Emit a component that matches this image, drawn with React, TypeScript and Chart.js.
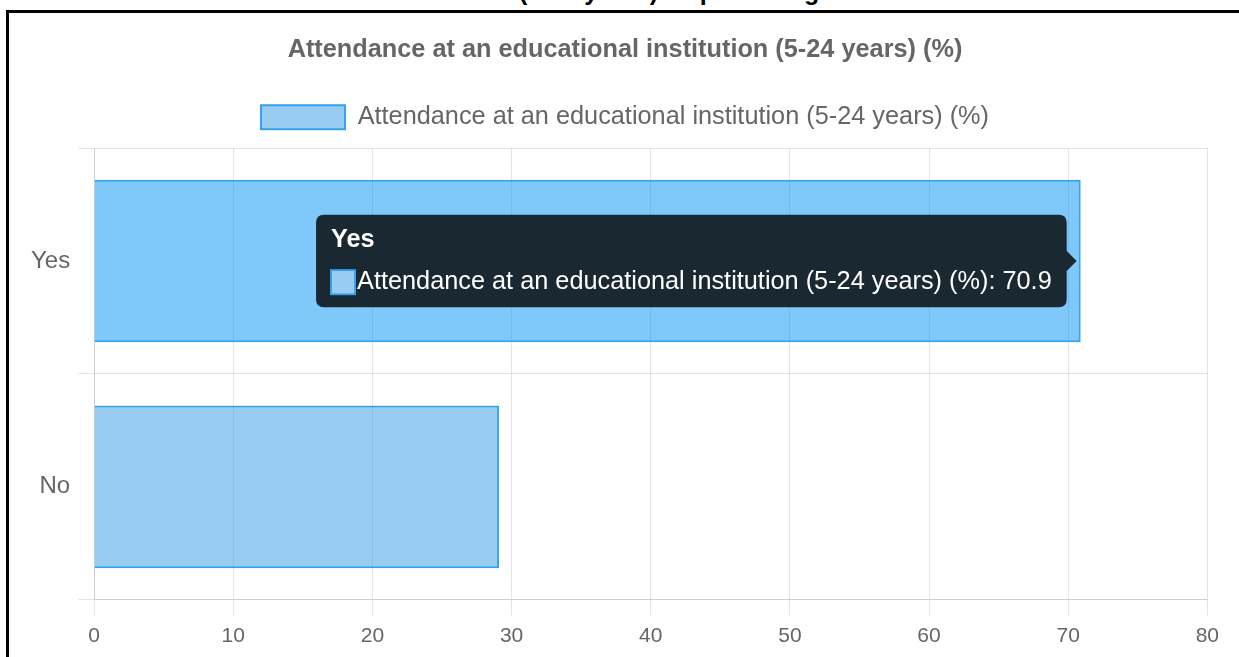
import React, { useEffect, useRef } from "react";
import { Chart, registerables } from "chart.js";

Chart.register(...registerables);

const categories = ["Yes", "No"];
const seriesLabel = "Attendance at an educational institution (5-24 years) (%)";
const seriesValues = [70.9, 29.1];
const xTicks = [0, 10, 20, 30, 40, 50, 60, 70, 80];
const headingLeft = "Attendance at an educational institution ";
const headingRight = "(5-24 years) as percentage";

const legendGap = {
  id: "legendGap",
  beforeInit(chart: any) {
    const legend = chart.legend;
    if (!legend) return;
    const fit = legend.fit;
    legend.fit = function () {
      fit.bind(legend)();
      legend.height += 8.2;
    };
  },
};

export default function App() {
  const ref = useRef<HTMLCanvasElement | null>(null);

  useEffect(() => {
    if (!ref.current) return;
    const chart = new Chart(ref.current, {
      type: "bar",
      data: {
        labels: categories,
        datasets: [
          {
            label: seriesLabel,
            data: seriesValues,
            backgroundColor: "rgba(49,153,227,0.5)",
            hoverBackgroundColor: "rgba(0,147,245,0.5)",
            borderColor: "#36a2eb",
            hoverBorderColor: "#36a2eb",
            borderWidth: 2,
          },
        ],
      },
      plugins: [legendGap],
      options: {
        indexAxis: "y",
        responsive: false,
        animation: false,
        devicePixelRatio: 1,
        layout: { padding: { top: 10, left: 14, right: 0, bottom: 0 } },
        scales: {
          x: {
            min: xTicks[0],
            max: xTicks[xTicks.length - 1],
            ticks: { stepSize: 10, font: { size: 21 }, padding: 8, color: "#666" },
            grid: { tickLength: 16, color: "rgba(0,0,0,0.1)" },
          },
          y: {
            ticks: { font: { size: 24 }, padding: 8, color: "#666" },
            grid: { tickLength: 16, color: "rgba(0,0,0,0.1)" },
          },
        },
        plugins: {
          title: {
            display: true,
            text: seriesLabel,
            color: "#666",
            font: { size: 25.3, weight: "bold" },
            padding: { top: 12, bottom: 29.2 },
          },
          legend: {
            labels: {
              color: "#666",
              font: { size: 25.3 },
              boxWidth: 84,
              boxHeight: 24,
            },
          },
          tooltip: {
            enabled: true,
            xAlign: "right",
            yAlign: "center",
            backgroundColor: "rgba(0,0,0,0.8)",
            titleFont: { size: 25.3, weight: "bold" },
            bodyFont: { size: 25.3 },
            padding: { top: 10, bottom: 10, left: 15, right: 15 },
            titleMarginBottom: 12,
            cornerRadius: 8,
            caretSize: 10,
            caretPadding: 4,
            boxWidth: 24,
            boxHeight: 24,
          },
        },
      },
    });
    const active = [{ datasetIndex: 0, index: 0 }];
    chart.setActiveElements(active);
    chart.tooltip?.setActiveElements(active, { x: 0, y: 0 });
    chart.update();
    return () => chart.destroy();
  }, []);

  return (
    <div>
      <div
        style={{
          position: "absolute",
          left: 0,
          top: 0,
          width: 1239,
          height: 6,
          overflow: "hidden",
          fontFamily: "'Liberation Sans', Arial, sans-serif",
          fontWeight: "bold",
          fontSize: 25,
          lineHeight: "25px",
          color: "#000",
        }}
      >
        <div style={{ position: "absolute", right: 1239 - 519, top: -21, whiteSpace: "nowrap" }}>
          {headingLeft}
        </div>
        <div style={{ position: "absolute", left: 519, top: -21, whiteSpace: "nowrap" }}>
          {headingRight}
        </div>
      </div>
      <div
        style={{
          position: "absolute",
          left: 6,
          top: 10,
          width: 1300,
          height: 720,
          border: "3px solid #000",
          boxSizing: "border-box",
          background: "#fff",
        }}
      >
        <canvas
          ref={ref}
          width={1218}
          height={644}
          style={{ position: "absolute", left: 0, top: 0, width: 1218, height: 644 }}
        />
      </div>
    </div>
  );
}
